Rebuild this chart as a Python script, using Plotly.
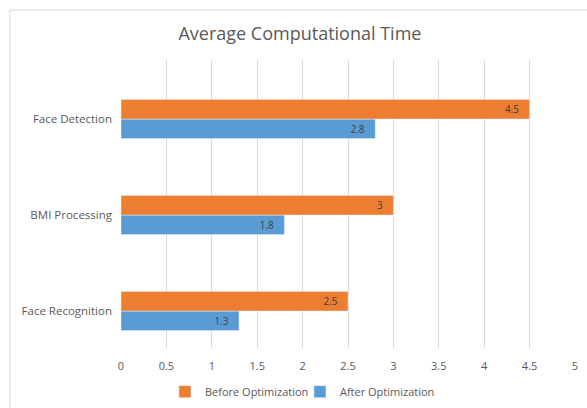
import plotly.graph_objects as go

categories = ["Face Recognition", "BMI Processing", "Face Detection"]
before_opt = [2.5, 3, 4.5]
after_opt = [1.3, 1.8, 2.8]
tick_vals = [0, 0.5, 1, 1.5, 2, 2.5, 3, 3.5, 4, 4.5, 5]
tick_text = ["0", "0.5", "1", "1.5", "2", "2.5", "3", "3.5", "4", "4.5", "5"]

FONT = "Open Sans, Liberation Sans, sans-serif"
GRAY = "#595959"
PAD = "\u00a0\u00a0\u00a0"

fig = go.Figure()
fig.add_trace(go.Bar(
    y=categories, x=after_opt, orientation="h", name="After Optimization",
    marker=dict(color="#5B9BD5"), text=[str(v) + PAD for v in after_opt],
    textposition="inside", insidetextanchor="end", textangle=0,
    textfont=dict(color="#404040", size=11, family=FONT), legendrank=2,
))
fig.add_trace(go.Bar(
    y=categories, x=before_opt, orientation="h", name="Before Optimization",
    marker=dict(color="#ED7D31"), text=[str(v) + PAD for v in before_opt],
    textposition="inside", insidetextanchor="end", textangle=0,
    textfont=dict(color="#404040", size=11, family=FONT), legendrank=1,
))

fig.update_layout(
    width=587, height=408,
    paper_bgcolor="white", plot_bgcolor="white",
    margin=dict(l=121, r=12, t=60, b=60, autoexpand=False),
    barmode="group", bargap=0.594, bargroupgap=0,
    font=dict(family=FONT, color=GRAY, size=11),
    title=dict(text="Average Computational Time", x=0.511, xref="container",
               xanchor="center", y=0.918, yref="container", yanchor="middle",
               font=dict(size=18, color=GRAY, family=FONT)),
    xaxis=dict(range=[0, 5], tickvals=tick_vals, ticktext=tick_text,
               showgrid=True, gridcolor="#d9d9d9", gridwidth=1,
               zeroline=False, showline=False, ticks="", automargin=False,
               tickfont=dict(size=11, color=GRAY), ticklabelstandoff=10),
    yaxis=dict(showgrid=False, zeroline=False, showline=False, ticks="",
               automargin=False, range=[-0.385, 2.615],
               tickfont=dict(size=11.5, color=GRAY), ticklabelstandoff=8),
    legend=dict(orientation="h", x=0.511, xref="container", xanchor="center",
                y=0.04, yref="container", yanchor="middle",
                font=dict(size=11, color=GRAY), itemwidth=30,
                entrywidth=90, traceorder="normal"),
    shapes=[
        dict(type="line", xref="paper", yref="paper",
             x0=-0.2445, x1=-0.2445, y0=1.1736, y1=-0.3,
             line=dict(color="#d9d9d9", width=1)),
        dict(type="line", xref="paper", yref="paper",
             x0=-0.2445, x1=1.1, y0=1.1736, y1=1.1736,
             line=dict(color="#d9d9d9", width=1)),
    ],
)

fig.write_html("out.html", post_script="document.body.style.margin='0';",
               config={"displayModeBar": False})
